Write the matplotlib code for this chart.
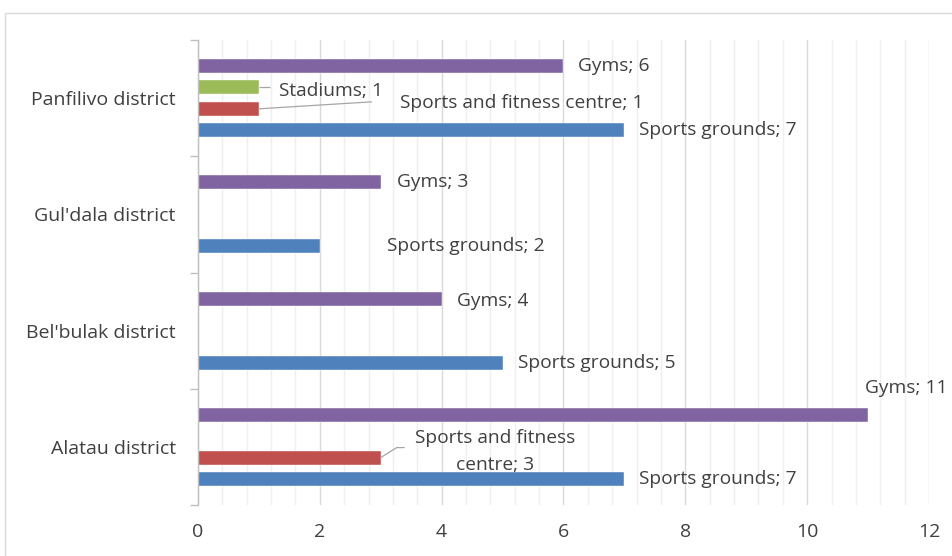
import numpy as np
import matplotlib
matplotlib.use("Agg")
import matplotlib.pyplot as plt
from matplotlib.patches import Rectangle
from matplotlib.ticker import MultipleLocator

plt.rcParams['font.family'] = ['Open Sans', 'DejaVu Sans']

districts = ["Alatau district", "Bel'bulak district", "Gul'dala district", "Panfilivo district"]
series = ["Sports grounds", "Sports and fitness centre", "Stadiums", "Gyms"]
colors = ["#4f81bd", "#c0504d", "#9bbb59", "#8064a2"]

sports_grounds = [7, 5, 2, 7]
fitness_centres = [3, np.nan, np.nan, 1]
stadiums = [np.nan, np.nan, np.nan, 1]
gyms = [11, 4, 3, 6]
values = [sports_grounds, fitness_centres, stadiums, gyms]

# label placement: (series index, district index) -> (dx px, dy px, ha, text)
label_style = {
    (0, 0): (15, 0, "left", None),
    (1, 0): (114, 6, "center", "Sports and fitness\ncentre; 3"),
    (3, 0): (-3, 27, "left", None),
    (0, 1): (15, 0, "left", None),
    (3, 1): (15, -2, "left", None),
    (0, 2): (67, 0, "left", None),
    (3, 2): (16, 0, "left", None),
    (0, 3): (15, 0, "left", None),
    (1, 3): (141, 6, "left", None),
    (2, 3): (20, -4, "left", None),
    (3, 3): (15, 0, "left", None),
}
# leader lines from the bar end, in pixel offsets
leaders = {
    (1, 0): [(0, 0), (16, 10), (24, 10)],
    (1, 3): [(0, 0), (113, 7)],
    (2, 3): [(0, 0), (11, 0)],
}

fig = plt.figure(figsize=(9.53, 5.56), dpi=100)
fig.patches.append(Rectangle((5 / 953, -0.1), 1.2, 1 - 13 / 556 + 0.1,
                             transform=fig.transFigure, fill=False,
                             edgecolor="#d9d9d9", linewidth=1.0))
ax = fig.add_axes([198 / 953, 1 - 505 / 556, (929 - 198) / 953, (505 - 40) / 556])
ax.set_xlim(0, 12)
ax.set_ylim(-0.5, len(districts) - 0.5)

n = len(series)
spacing = 0.184
bar_h = 0.12
y = np.arange(len(districts))
for s in range(n):
    offs = (s - (n - 1) / 2) * spacing
    ax.barh(y + offs, values[s], height=bar_h, color=colors[s],
            edgecolor="white", linewidth=0.3, zorder=3)

text_color = "#404040"
fs = 13.8
for (s, d), (dx, dy, ha, txt) in label_style.items():
    v = values[s][d]
    yy = y[d] + (s - (n - 1) / 2) * spacing
    label = txt if txt else f"{series[s]}; {v:g}"
    ax.annotate(label, xy=(v, yy), xytext=(dx, dy), textcoords="offset pixels",
                ha=ha, va="center", multialignment="center", fontsize=fs,
                color=text_color, linespacing=1.7, zorder=5)
    if (s, d) in leaders:
        px, py = ax.transData.transform((v, yy))
        inv = ax.transData.inverted()
        xs, ys = zip(*[inv.transform((px + a, py + b)) for a, b in leaders[(s, d)]])
        ax.plot(xs, ys, color="#a6a6a6", linewidth=0.9, zorder=4,
                solid_capstyle="butt")

ax.xaxis.set_major_locator(MultipleLocator(2))
ax.xaxis.set_minor_locator(MultipleLocator(0.4))
ax.grid(axis="x", which="major", color="#d9d9d9", linewidth=1.0, zorder=0)
ax.grid(axis="x", which="minor", color="#efefef", linewidth=1.0, zorder=0)

ax.set_yticks(y)
ax.set_yticklabels(districts)
ax.set_yticks(np.arange(-0.5, len(districts), 1.0), minor=True)
ax.tick_params(axis="y", which="major", length=0, pad=16, labelsize=14,
               labelcolor=text_color)
ax.tick_params(axis="y", which="minor", length=6, color="#bfbfbf", width=1.0)
ax.tick_params(axis="x", which="both", length=0, pad=13, labelsize=14,
               labelcolor=text_color)

for side in ["top", "right", "bottom"]:
    ax.spines[side].set_visible(False)
ax.spines["left"].set_color("#bfbfbf")
ax.spines["left"].set_linewidth(1.0)
ax.spines["left"].set_zorder(4)

fig.savefig("out.png", dpi=100)
